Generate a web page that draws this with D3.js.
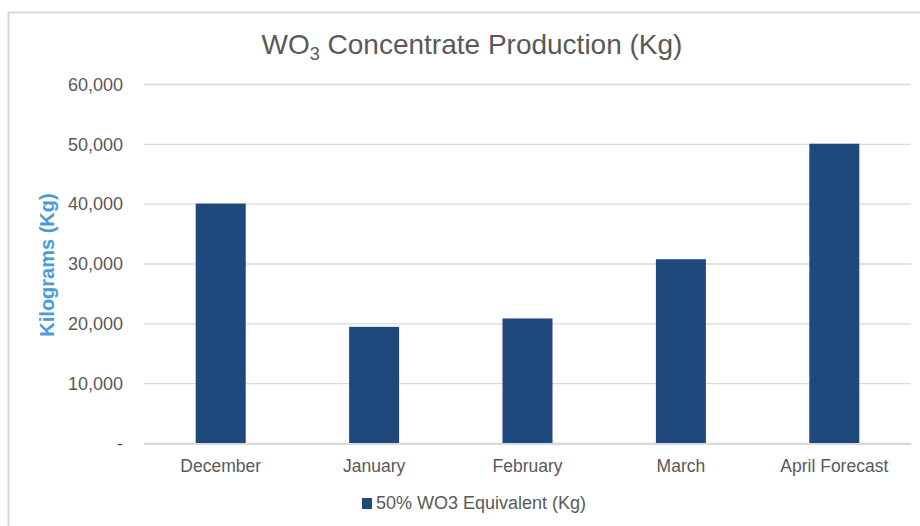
<!DOCTYPE html>
<html>
<head>
<meta charset="utf-8">
<script src="https://cdn.jsdelivr.net/npm/d3@7"></script>
<style>
  body { margin: 0; background: #fff; }
  svg text { font-family: "Liberation Sans", Arial, sans-serif; }
</style>
</head>
<body>
<div id="chart"></div>
<script>
// chart data
var categories = ["December", "January", "February", "March", "April Forecast"];
var production = [40100, 19500, 20900, 30800, 50100];
var yTicks = [0, 10000, 20000, 30000, 40000, 50000, 60000];
var seriesName = "50% WO3 Equivalent (Kg)";

var width = 920, height = 526;
var margin = {top: 84.5, right: 9, bottom: 82.5, left: 144};

var svg = d3.select("#chart").append("svg")
  .attr("width", width)
  .attr("height", height);

// outer chart border (only top and left are visible in the frame)
svg.append("path")
  .attr("d", "M8.5," + height + "V12.5H" + width)
  .attr("fill", "none")
  .attr("stroke", "#d9d9d9")
  .attr("stroke-width", 2);

var x = d3.scaleBand()
  .domain(categories)
  .range([margin.left, width - margin.right])
  .paddingInner(0.674)
  .paddingOuter(0.337);

var y = d3.scaleLinear()
  .domain([0, 60000])
  .range([height - margin.bottom, margin.top]);

// gridlines
svg.append("g")
  .selectAll("line")
  .data(yTicks)
  .enter()
  .append("line")
  .attr("x1", margin.left)
  .attr("x2", width - margin.right)
  .attr("y1", function (d) { return y(d); })
  .attr("y2", function (d) { return y(d); })
  .attr("stroke", "#d9d9d9")
  .attr("stroke-width", 1.4);

// y axis labels
var yAxis = d3.axisLeft(y)
  .tickValues(yTicks)
  .tickSize(0)
  .tickPadding(0)
  .tickFormat(function (d) { return d === 0 ? "-" : d3.format(",")(d); });

var gy = svg.append("g")
  .attr("transform", "translate(123,0)")
  .call(yAxis);
gy.select(".domain").remove();
gy.selectAll("text")
  .attr("fill", "#595959")
  .style("font-size", "18px");

// bars
svg.append("g")
  .selectAll("rect")
  .data(production)
  .enter()
  .append("rect")
  .attr("x", function (d, i) { return x(categories[i]); })
  .attr("width", x.bandwidth())
  .attr("y", function (d) { return y(d); })
  .attr("height", function (d) { return y(0) - y(d); })
  .attr("fill", "#1f497d");

// x axis
var xAxis = d3.axisBottom(x).tickSize(0).tickPadding(16);
var gx = svg.append("g")
  .attr("transform", "translate(0," + y(0) + ")")
  .call(xAxis);
gx.select(".domain")
  .attr("stroke", "#d9d9d9")
  .attr("stroke-width", 2);
gx.selectAll("text")
  .attr("fill", "#595959")
  .style("font-size", "17.5px");

// title with subscript
var title = svg.append("text")
  .attr("x", 472)
  .attr("y", 54)
  .attr("text-anchor", "middle")
  .attr("fill", "#595959")
  .style("font-size", "28px");
title.append("tspan").text("WO");
title.append("tspan").attr("dy", 6).style("font-size", "18px").text("3");
title.append("tspan").attr("dy", -6).text(" Concentrate Production (Kg)");

// y axis title
svg.append("text")
  .attr("transform", "translate(54,265) rotate(-90)")
  .attr("text-anchor", "middle")
  .attr("fill", "#4a9bdc")
  .style("font-size", "20px")
  .style("font-weight", "bold")
  .text("Kilograms (Kg)");

// legend
var legend = svg.append("g").attr("transform", "translate(362,498)");
legend.append("rect")
  .attr("width", 10)
  .attr("height", 11)
  .attr("fill", "#1f497d");
legend.append("text")
  .attr("x", 14)
  .attr("y", 11)
  .attr("fill", "#595959")
  .style("font-size", "18px")
  .text(seriesName);
</script>
</body>
</html>
